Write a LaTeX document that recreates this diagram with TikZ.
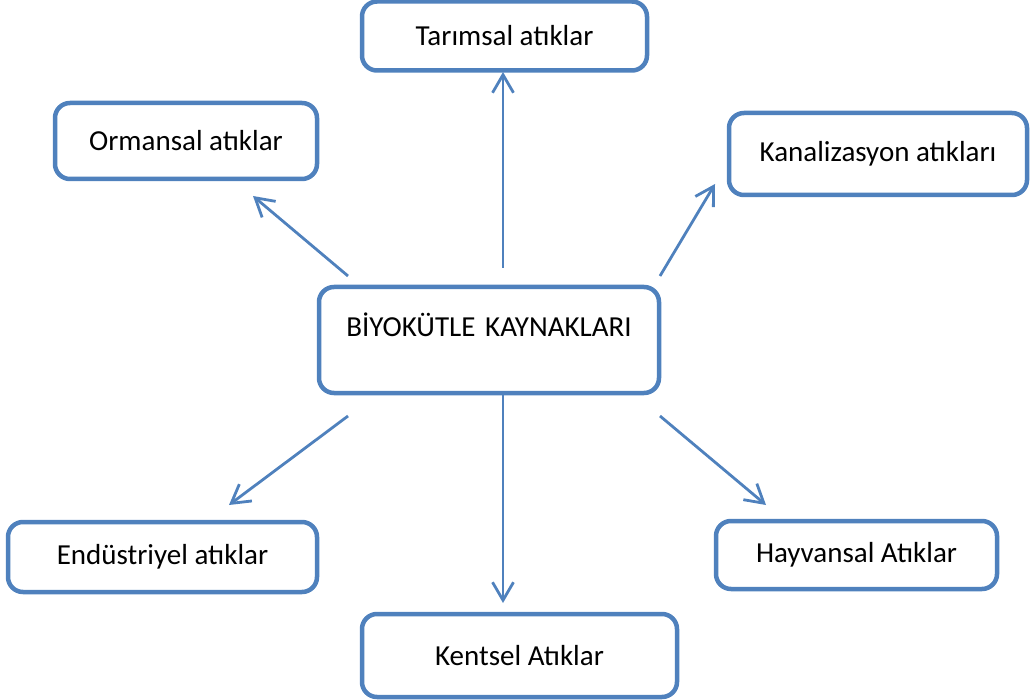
\documentclass[tikz,border=0pt]{standalone}
\usepackage{fontspec}
\setmainfont{Carlito}
\usetikzlibrary{arrows.meta}
\definecolor{kutumavi}{RGB}{79,129,189}
\begin{document}
\begin{tikzpicture}[x=1pt,y=-1pt,
  kutu/.style={draw=kutumavi,line width=4.5pt,rounded corners=15pt,fill=white,
    font=\fontsize{29}{35}\selectfont,inner sep=0pt},
  ok/.style={draw=kutumavi,line width=2.8pt,
    -{Straight Barb[length=18pt,width=21pt,line width=2.8pt]}}]
\useasboundingbox (0,0) rectangle (1030,700);
% kaynak kutulari
\node[kutu,minimum width=285pt,minimum height=69pt] (tarim) at (504.5,36) {Tarımsal atıklar};
\node[kutu,minimum width=262pt,minimum height=76pt] (orman) at (186,141) {Ormansal atıklar};
\node[kutu,minimum width=298pt,minimum height=82pt] (kanal) at (878,154) {Kanalizasyon atıkları};
\node[kutu,text width=340pt,align=center,text height=50pt,text depth=56pt,anchor=base] (merkez) at (489,337) {BİYOKÜTLE KAYNAKLARI};
\node[kutu,minimum width=309pt,minimum height=70pt] (endustri) at (162.5,557) {Endüstriyel atıklar};
\node[kutu,minimum width=281pt,minimum height=68pt] (hayvan) at (856.5,555) {Hayvansal Atıklar};
\node[kutu,minimum width=315pt,minimum height=83pt] (kent) at (519.5,655.5) {Kentsel Atıklar};
% ok uclari
\coordinate (u1) at (503,268);   \coordinate (u2) at (503,72);
\coordinate (sl1) at (348,276);  \coordinate (sl2) at (253,196);
\coordinate (sr1) at (660,276);  \coordinate (sr2) at (715,184);
\coordinate (al1) at (348,416);  \coordinate (al2) at (229,505);
\coordinate (a1) at (503,395);   \coordinate (a2) at (503,603);
\coordinate (ar1) at (660,416);  \coordinate (ar2) at (766,505);
\draw[ok] (u1) -- (u2);
\draw[ok] (sl1) -- (sl2);
\draw[ok] (sr1) -- (sr2);
\draw[ok] (al1) -- (al2);
\draw[ok] (a1) -- (a2);
\draw[ok] (ar1) -- (ar2);
\end{tikzpicture}
\end{document}
